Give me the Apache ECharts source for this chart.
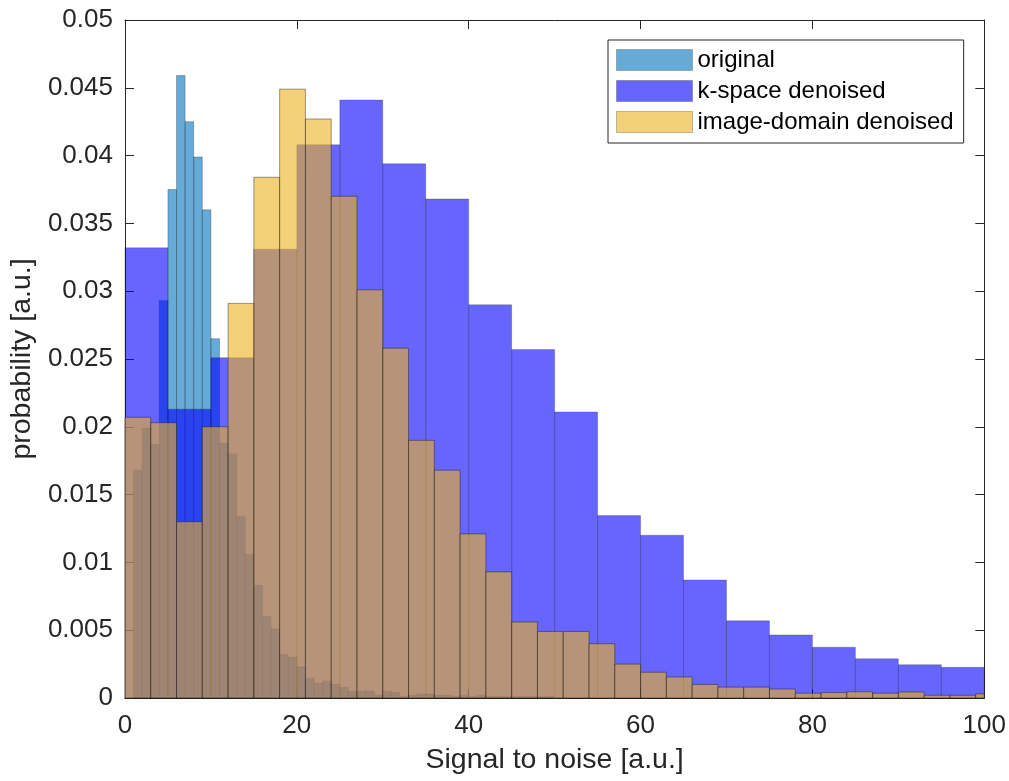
<!DOCTYPE html>
<html>
<head>
<meta charset="utf-8">
<title>Signal to noise histograms</title>
<script src="https://cdn.jsdelivr.net/npm/echarts@6/dist/echarts.min.js"></script>
<style>
  html, body { margin: 0; padding: 0; background: #ffffff; }
  #chart { width: 1009px; height: 781px; }
</style>
</head>
<body>
<div id="chart"></div>
<script>
// Histogram bins: each series is a run of equal-width bins starting at binStart
const seriesNames = ['original', 'k-space denoised', 'image-domain denoised'];

const originalBinStart = 1;
const originalBinWidth = 1;
const originalValues = [
  0.0168, 0.0199, 0.0187, 0.0293, 0.0375, 0.0459, 0.0425, 0.0399, 0.0360, 0.0265,
  0.0188, 0.0180, 0.0134, 0.0106, 0.0083, 0.0060, 0.0051, 0.0032, 0.0030, 0.0023,
  0.00145, 0.0011, 0.00125, 0.0010, 0.0008, 0.0005, 0.0005, 0.0005, 0.0002, 0.0005,
  0.0004, 0.0001, 0.0002, 0.0003, 0.0003, 0.0002, 0.0002, 0.0001, 0.0002, 0.0001,
  0.0002, 0.0001, 0.0001, 0.0001, 0.0001, 0.0001, 0.0001, 0.0001, 0.0001
];

const kspaceBinStart = 0;
const kspaceBinWidth = 5;
const kspaceValues = [
  0.0332, 0.0213, 0.0251, 0.0331, 0.0408, 0.0441, 0.0394, 0.0368, 0.0290, 0.0257,
  0.0211, 0.01345, 0.0120, 0.0087, 0.0057, 0.00465, 0.00374, 0.0029, 0.00246, 0.00226
];

const imageBinStart = 0;
const imageBinWidth = 3;
const imageValues = [
  0.0207, 0.0203, 0.0130, 0.0200, 0.0291, 0.0384, 0.0449, 0.0427, 0.0370, 0.0301,
  0.0258, 0.0190, 0.0168, 0.0121, 0.0093, 0.0056, 0.0049, 0.0049, 0.0040, 0.0025,
  0.0019, 0.00155, 0.0010, 0.0008, 0.0008, 0.00066, 0.00035, 0.0004, 0.00046, 0.00035,
  0.00044, 0.0002, 0.0002, 0.0003
];

const xTicks = [0, 20, 40, 60, 80, 100];
const yTicks = [0, 0.005, 0.01, 0.015, 0.02, 0.025, 0.03, 0.035, 0.04, 0.045, 0.05];

// Semi-transparent faces, drawn in order so later series sit on top
const faceColors = ['rgba(0,114,189,0.6)', 'rgba(0,0,255,0.6)', 'rgba(237,177,32,0.6)'];
const edgeColors = ['rgba(20,20,20,0.28)', 'rgba(20,20,20,0.22)', 'rgba(20,20,20,0.42)'];

const FONT = '"Liberation Sans", Arial, Helvetica, sans-serif';
const INK = '#262626';

function toBins(start, width, values) {
  return values.map((v, i) => [start + i * width, start + (i + 1) * width, v]);
}

function histogramSeries(idx, bins) {
  return {
    name: seriesNames[idx],
    type: 'custom',
    xAxisIndex: 0,
    yAxisIndex: 0,
    itemStyle: { color: faceColors[idx] },
    encode: { x: [0, 1], y: 2 },
    data: bins,
    renderItem: function (params, api) {
      const v = api.value(2);
      if (!(v > 0)) return null;
      const topLeft = api.coord([api.value(0), v]);
      const bottomRight = api.coord([api.value(1), 0]);
      const rect = echarts.graphic.clipRectByRect(
        {
          x: topLeft[0],
          y: topLeft[1],
          width: bottomRight[0] - topLeft[0],
          height: bottomRight[1] - topLeft[1]
        },
        {
          x: params.coordSys.x,
          y: params.coordSys.y,
          width: params.coordSys.width,
          height: params.coordSys.height
        }
      );
      if (!rect) return null;
      return {
        type: 'rect',
        shape: rect,
        style: {
          fill: faceColors[idx],
          stroke: edgeColors[idx],
          lineWidth: 1
        }
      };
    }
  };
}

const xMin = xTicks[0], xMax = xTicks[xTicks.length - 1];
const yMin = yTicks[0], yMax = yTicks[yTicks.length - 1];
const xStep = xTicks[1] - xTicks[0];
const yStep = yTicks[1] - yTicks[0];

function tickText(list) {
  return function (value) {
    let best = list[0];
    for (const t of list) if (Math.abs(t - value) < Math.abs(best - value)) best = t;
    return String(best);
  };
}

const chart = echarts.init(document.getElementById('chart'), null, { renderer: 'canvas' });

const frameAxisLine = { show: true, onZero: false, lineStyle: { color: INK, width: 1 } };
const innerTicks = { show: true, inside: true, length: 9, lineStyle: { color: INK, width: 1 } };

chart.setOption({
  animation: false,
  backgroundColor: '#ffffff',
  grid: { left: 124, right: 23, top: 20, bottom: 83, containLabel: false },
  legend: {
    orient: 'vertical',
    left: 608,
    top: 40,
    padding: [8, 10, 9, 8],
    itemGap: 7,
    itemWidth: 76,
    itemHeight: 21,
    backgroundColor: '#ffffff',
    borderColor: INK,
    borderWidth: 1,
    borderRadius: 0,
    selectedMode: false,
    textStyle: { fontFamily: FONT, fontSize: 24, lineHeight: 21, color: '#000000' },
    data: seriesNames.map((n, i) => ({
      name: n,
      icon: 'rect',
      itemStyle: { color: faceColors[i], borderColor: 'rgba(20,20,20,0.25)', borderWidth: 1 }
    }))
  },
  xAxis: [
    {
      type: 'value',
      min: xMin,
      max: xMax,
      interval: xStep,
      name: 'Signal to noise [a.u.]',
      nameLocation: 'middle',
      nameGap: 48,
      nameTextStyle: { fontFamily: FONT, fontSize: 28.5, color: INK },
      axisLine: frameAxisLine,
      axisTick: innerTicks,
      splitLine: { show: false },
      axisLabel: { margin: 15, fontFamily: FONT, fontSize: 26, color: INK, formatter: tickText(xTicks) }
    },
    {
      type: 'value',
      position: 'top',
      min: xMin,
      max: xMax,
      interval: xStep,
      axisLine: frameAxisLine,
      axisTick: innerTicks,
      splitLine: { show: false },
      axisLabel: { show: false }
    }
  ],
  yAxis: [
    {
      type: 'value',
      min: yMin,
      max: yMax,
      interval: yStep,
      name: 'probability [a.u.]',
      nameLocation: 'middle',
      nameGap: 70,
      nameRotate: 90,
      nameTextStyle: { fontFamily: FONT, fontSize: 28.5, color: INK },
      axisLine: frameAxisLine,
      axisTick: innerTicks,
      splitLine: { show: false },
      axisLabel: { margin: 12, fontFamily: FONT, fontSize: 26, color: INK, formatter: tickText(yTicks) }
    },
    {
      type: 'value',
      position: 'right',
      min: yMin,
      max: yMax,
      interval: yStep,
      axisLine: frameAxisLine,
      axisTick: innerTicks,
      splitLine: { show: false },
      axisLabel: { show: false }
    }
  ],
  series: [
    histogramSeries(0, toBins(originalBinStart, originalBinWidth, originalValues)),
    histogramSeries(1, toBins(kspaceBinStart, kspaceBinWidth, kspaceValues)),
    histogramSeries(2, toBins(imageBinStart, imageBinWidth, imageValues))
  ]
});
</script>
</body>
</html>
